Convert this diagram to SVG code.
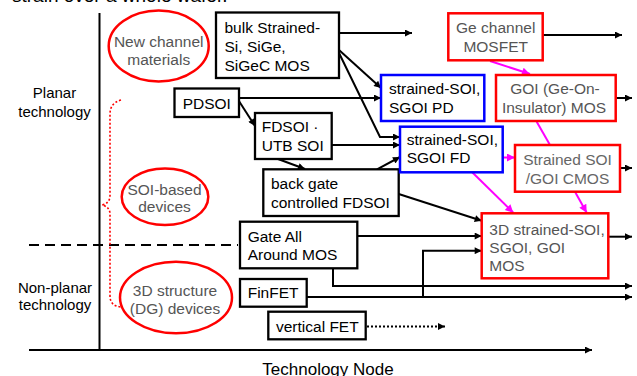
<svg xmlns="http://www.w3.org/2000/svg" width="637" height="376" viewBox="0 0 637 376">
  <style>
    text { font-family: "Liberation Sans", Arial, sans-serif; font-size: 15.5px; fill: #000; }
    .lbl { font-size: 15px; }
    .grey { fill: #555; }
    .light { fill: #666; }
    .mid { text-anchor: middle; }
    .bx { fill: #fff; stroke: #000; stroke-width: 2.3; }
    .bb { fill: #fff; stroke: #0000ff; stroke-width: 2.5; }
    .br { fill: #fff; stroke: #ff0000; stroke-width: 2.5; }
    .ell { fill: none; stroke: #ff0000; stroke-width: 2.5; }
    .ln { fill: none; stroke: #000; stroke-width: 2; }
    .mg { fill: none; stroke: #ff00ff; stroke-width: 2; }
  </style>
  <defs>
    <marker id="ah" viewBox="0 0 10 10" refX="10" refY="5" markerWidth="9" markerHeight="7" markerUnits="userSpaceOnUse" orient="auto">
      <path d="M0,0 L10,5 L0,10 z" fill="#000"/>
    </marker>
    <marker id="am" viewBox="0 0 10 10" refX="10" refY="5" markerWidth="10" markerHeight="8" markerUnits="userSpaceOnUse" orient="auto">
      <path d="M0,0 L10,5 L0,10 z" fill="#ff00ff"/>
    </marker>
  </defs>

  <rect width="637" height="376" fill="#fff"/>

  <!-- heading line, cut by the top edge -->
  <text x="12" y="1.5" style="font-size:19px">strain over a whole wafer.</text>

  <!-- axes -->
  <g id="axes">
    <path class="ln" d="M99.5,13 V350" stroke-width="2.3"/>
    <path class="ln" d="M29,350 H592" stroke-width="2.3" marker-end="url(#ah)"/>
    <path class="ln" d="M29,245 H238" stroke-dasharray="10 6"/>
    <text class="lbl mid" x="54.5" y="98">Planar</text>
    <text class="lbl mid" x="54.5" y="116.5">technology</text>
    <text class="lbl mid" x="55" y="293">Non-planar</text>
    <text class="lbl mid" x="55" y="310">technology</text>
    <text class="mid" x="328" y="375" style="font-size:17px">Technology Node</text>
  </g>

  <!-- category ellipses -->
  <g id="cat-new-channel">
    <ellipse class="ell" cx="158.7" cy="46" rx="50" ry="35.5"/>
    <text class="grey mid" x="158.7" y="47">New channel</text>
    <text class="grey mid" x="158.7" y="65">materials</text>
  </g>
  <g id="cat-soi">
    <ellipse class="ell" cx="165" cy="196.7" rx="43.3" ry="28.3"/>
    <text class="grey mid" x="164.5" y="194.5">SOI-based</text>
    <text class="grey mid" x="164.5" y="211.5">devices</text>
  </g>
  <g id="cat-3d">
    <ellipse class="ell" cx="176" cy="297.5" rx="56" ry="35.8"/>
    <text class="grey mid" x="175" y="296">3D structure</text>
    <text class="grey mid" x="175" y="313.5">(DG) devices</text>
  </g>
  <g id="brace">
    <path d="M121,100 Q110,103 110,114 V196 Q110,203 102,205 Q110,207 110,214 V296 Q110,306 121,307" fill="none" stroke="#ff0000" stroke-width="1.6" stroke-dasharray="2 2"/>
  </g>

  <!-- connectors -->
  <g id="connectors">
    <path class="ln" d="M339,33 H412" marker-end="url(#ah)"/>
    <path class="ln" d="M339,50 L381,88" marker-end="url(#ah)"/>
    <path class="ln" d="M339,53 L380,137 H400" marker-end="url(#ah)"/>
    <path class="ln" d="M239,98 H381" marker-end="url(#ah)"/>
    <path class="ln" d="M237,98 L255,126" marker-end="url(#ah)"/>
    <path class="ln" d="M278,159 L305,169" marker-end="url(#ah)"/>
    <path class="ln" d="M331.7,145 H400" marker-end="url(#ah)"/>
    <path class="ln" d="M377,169.3 L400,157" marker-end="url(#ah)"/>
    <path class="ln" d="M398.7,194 L481.7,220.7" marker-end="url(#ah)"/>
    <path class="ln" d="M357,236 H481.7" marker-end="url(#ah)"/>
    <path class="ln" d="M333,268 V286 H632" marker-end="url(#ah)"/>
    <path class="ln" d="M306.7,297 H632" marker-end="url(#ah)"/>
    <path class="ln" d="M423,297 V250.7 H481.7" marker-end="url(#ah)"/>
    <path class="ln" d="M367,326.5 H445" stroke-dasharray="2 2" marker-end="url(#ah)"/>
    <path class="ln" d="M542.7,35 H622" marker-end="url(#ah)"/>
    <path class="ln" d="M615.7,98 H632" marker-end="url(#ah)"/>
    <path class="ln" d="M620,168 H632" marker-end="url(#ah)"/>
    <path class="ln" d="M608.3,236.7 H632" marker-end="url(#ah)"/>
    <path class="mg" d="M490,61 L530,74" marker-end="url(#am)"/>
    <path class="mg" d="M536.7,121.7 L550,145"/>
    <path class="mg" d="M503,157.5 H515" marker-end="url(#am)"/>
    <path class="mg" d="M471.7,171.7 L513.3,212.7" marker-end="url(#am)"/>
    <path class="mg" d="M575,191.7 L586.7,212.7" marker-end="url(#am)"/>
  </g>

  <!-- device nodes -->
  <g id="bulk">
    <rect class="bx" x="216" y="12.5" width="123" height="65.5"/>
    <text x="224.5" y="33.3">bulk Strained-</text>
    <text x="224.5" y="52">Si, SiGe,</text>
    <text x="224.5" y="70.7">SiGeC MOS</text>
  </g>
  <g id="pdsoi">
    <rect class="bx" x="174.5" y="88.5" width="64.5" height="28.5"/>
    <text x="182.7" y="109">PDSOI</text>
  </g>
  <g id="fdsoi">
    <rect class="bx" x="255" y="113" width="76.7" height="46"/>
    <text x="261.7" y="131.7">FDSOI ·</text>
    <text x="261.7" y="151">UTB SOI</text>
  </g>
  <g id="backgate">
    <rect class="bx" x="263.3" y="169.3" width="135.4" height="46.7"/>
    <text x="271" y="189.3">back gate</text>
    <text x="271" y="208.3">controlled FDSOI</text>
  </g>
  <g id="gaa">
    <rect class="bx" x="240" y="221.7" width="117.3" height="46.6"/>
    <text x="247.7" y="242.3">Gate All</text>
    <text x="247.7" y="260">Around MOS</text>
  </g>
  <g id="finfet">
    <rect class="bx" x="240" y="279" width="66.7" height="27.7"/>
    <text x="247.7" y="298.3">FinFET</text>
  </g>
  <g id="vfet">
    <rect class="bx" x="268.3" y="311.7" width="97.4" height="27.6"/>
    <text x="276" y="331.7">vertical FET</text>
  </g>
  <g id="ssoi-pd">
    <rect class="bb" x="381" y="75" width="103.3" height="46"/>
    <text x="389" y="94">strained-SOI,</text>
    <text x="389" y="112.7">SGOI  PD</text>
  </g>
  <g id="ssoi-fd">
    <rect class="bb" x="400" y="126.7" width="102.7" height="45.6"/>
    <text x="406.7" y="145">strained-SOI,</text>
    <text x="406.7" y="163.3">SGOI  FD</text>
  </g>
  <g id="ge-channel">
    <rect class="br" x="448.3" y="13.3" width="94.4" height="47"/>
    <text class="grey mid" x="495.7" y="32.7">Ge channel</text>
    <text class="grey mid" x="495.7" y="51.7">MOSFET</text>
  </g>
  <g id="goi">
    <rect class="br" x="496" y="75" width="119.7" height="46"/>
    <text class="grey mid" x="555" y="94.3">GOI (Ge-On-</text>
    <text class="grey mid" x="554" y="113.3">Insulator) MOS</text>
  </g>
  <g id="strained-cmos">
    <rect class="br" x="515" y="145" width="105" height="46.7"/>
    <text class="light mid" x="567.5" y="165">Strained SOI</text>
    <text class="light mid" x="567.5" y="184">/GOI CMOS</text>
  </g>
  <g id="3d-strained">
    <rect class="br" x="481.7" y="213.3" width="126.6" height="65"/>
    <text class="grey" x="489.3" y="234.5">3D strained-SOI,</text>
    <text class="grey" x="489.3" y="252.5">SGOI, GOI</text>
    <text class="grey" x="489.3" y="270.7">MOS</text>
  </g>
</svg>
